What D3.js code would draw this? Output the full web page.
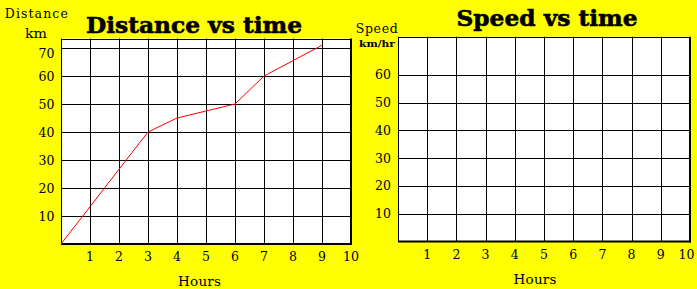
<!DOCTYPE html>
<html><head><meta charset="utf-8">
<script src="https://cdn.jsdelivr.net/npm/d3@7"></script>
<style>html,body{margin:0;padding:0;background:#ffff00;overflow:hidden}svg{display:block}</style>
</head><body>
<script>
// ---- data ----
const hours = [0,1,2,3,4,5,6,7,8,9];
const distanceKm = [0,13.3,26.7,40,45,47.5,50,60,65.5,71];
const speedKmHr = []; // blank chart to be completed
const hourTicks = [1,2,3,4,5,6,7,8,9,10];
const distanceTicks = [10,20,30,40,50,60,70];
const speedTicks = [10,20,30,40,50,60];

const W = 697, H = 289;
const svg = d3.select("body").append("svg").attr("width", W).attr("height", H);
svg.append("rect").attr("width", W).attr("height", H).attr("fill", "#ffff00");

const serif = "'DejaVu Serif', serif";

function panel(cfg) {
  const x = d3.scaleLinear().domain([0,10]).range(cfg.xr);
  const y = d3.scaleLinear().domain([0,cfg.ymax]).range(cfg.yr);
  const g = svg.append("g");
  const x0 = x(0), x1 = x(10), y0 = y(0), y1 = y(cfg.ymax);
  g.append("rect").attr("x", x0).attr("y", y1).attr("width", x1-x0).attr("height", y0-y1).attr("fill", "#fff");
  // grid
  g.selectAll(".vg").data(hourTicks.slice(0,-1)).join("line")
    .attr("x1", d=>Math.round(x(d))+0.5).attr("x2", d=>Math.round(x(d))+0.5)
    .attr("y1", y1).attr("y2", y0).attr("stroke", "#000").attr("stroke-width", 1);
  g.selectAll(".hg").data(cfg.yticks).join("line")
    .attr("x1", x0).attr("x2", x1)
    .attr("y1", d=>Math.round(y(d))+0.5).attr("y2", d=>Math.round(y(d))+0.5)
    .attr("stroke", "#000").attr("stroke-width", 1);
  // borders
  g.append("line").attr("x1", x0+0.5).attr("x2", x0+0.5).attr("y1", y1).attr("y2", y0).attr("stroke","#000");
  g.append("line").attr("x1", x0).attr("x2", x1).attr("y1", Math.round(y1)+0.5).attr("y2", Math.round(y1)+0.5).attr("stroke","#000");
  g.append("line").attr("x1", x1).attr("x2", x1).attr("y1", y1).attr("y2", y0+1).attr("stroke","#000").attr("stroke-width",2);
  g.append("line").attr("x1", x0).attr("x2", x1+1).attr("y1", y0).attr("y2", y0).attr("stroke","#000").attr("stroke-width",2);
  // y tick labels
  g.selectAll(".yl").data(cfg.yticks).join("text")
    .attr("x", cfg.ylabX).attr("y", d=>y(d) + (d===70 ? 5 : 0)).attr("dy", "0.36em")
    .attr("text-anchor", "end").attr("font-family", serif).attr("font-size", 12.5).attr("fill", "#000")
    .text(d=>d);
  // x tick labels
  g.selectAll(".xl").data(hourTicks).join("text")
    .attr("x", d=>x(d) - (d===10 ? cfg.lastShift : 0)).attr("y", cfg.xlabY)
    .attr("text-anchor", "middle").attr("font-family", serif).attr("font-size", 12.5).attr("fill", "#000")
    .text(d=>d);
  g.append("text").attr("x", cfg.hoursX).attr("y", cfg.hoursY).attr("text-anchor","middle")
    .attr("font-family", serif).attr("font-size", 13.5).attr("fill","#000")
    .attr("textLength", 43).attr("lengthAdjust","spacing").text("Hours");
  // title
  g.append("text").attr("x", cfg.titleX).attr("y", cfg.titleY).attr("text-anchor","middle")
    .attr("font-family", serif).attr("font-weight","bold").attr("font-size", 22.5).attr("fill","#000")
    .attr("stroke","#000").attr("stroke-width",0.6)
    .attr("textLength", cfg.titleW).attr("lengthAdjust","spacingAndGlyphs").text(cfg.title);
  return {x, y, g};
}

const left = panel({xr:[61,351], yr:[244,38.5], ymax:73.4, yticks:distanceTicks, ylabX:54.5, xlabY:260.5,
  lastShift:0, hoursX:199.5, hoursY:285.5, titleX:194, titleY:33, titleW:216, title:"Distance vs time"});
const right = panel({xr:[398,690], yr:[241.5,36.7], ymax:73.7, yticks:speedTicks, ylabX:391, xlabY:259,
  lastShift:3.5, hoursX:535, hoursY:283.5, titleX:547, titleY:25.5, titleW:181, title:"Speed vs time"});

// distance line
left.g.append("path").datum(hours.map((h,i)=>[h, distanceKm[i]]))
  .attr("d", d3.line().x(d=>left.x(d[0])).y(d=>left.y(d[1])))
  .attr("fill","none").attr("stroke","#ff0000").attr("stroke-width",1);
// speed line (empty)
right.g.append("path").datum(speedKmHr.map((v,i)=>[hours[i], v]))
  .attr("d", d3.line().x(d=>right.x(d[0])).y(d=>right.y(d[1])))
  .attr("fill","none").attr("stroke","#ff0000");

// axis titles
svg.append("text").attr("x", 36.3).attr("y", 18).attr("text-anchor","middle").attr("font-family", serif)
  .attr("font-size", 12.5).attr("textLength", 63).attr("lengthAdjust","spacing").text("Distance");
svg.append("text").attr("x", 36).attr("y", 37.5).attr("text-anchor","middle").attr("font-family", serif)
  .attr("font-size", 13.5).attr("textLength", 22).attr("lengthAdjust","spacingAndGlyphs").text("km");
svg.append("text").attr("x", 376.7).attr("y", 32.5).attr("text-anchor","middle").attr("font-family", serif)
  .attr("font-size", 12.5).attr("textLength", 42).attr("lengthAdjust","spacing").text("Speed");
svg.append("text").attr("x", 377).attr("y", 46.7).attr("text-anchor","middle").attr("font-family", serif)
  .attr("font-size", 10).attr("font-weight","bold").attr("textLength", 36).attr("lengthAdjust","spacingAndGlyphs").text("km/hr");
</script>
</body></html>
